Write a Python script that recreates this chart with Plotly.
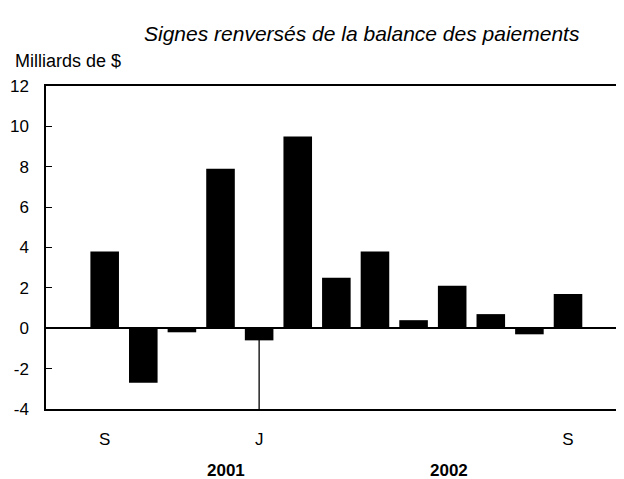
import plotly.graph_objects as go

months = ["Sep 2001", "Oct 2001", "Nov 2001", "Dec 2001", "Jan 2002", "Feb 2002",
          "Mar 2002", "Apr 2002", "May 2002", "Jun 2002", "Jul 2002", "Aug 2002",
          "Sep 2002"]
values = [3.8, -2.7, -0.2, 7.9, -0.6, 9.5, 2.5, 3.8, 0.4, 2.1, 0.7, -0.3, 1.7]
tick_months = ["Sep 2001", "Jan 2002", "Sep 2002"]
tick_text = ["S", "J", "S"]
year_labels = ["2001", "2002"]
year_pos = [3.15, 8.93]
y_ticks = [-4, -2, 0, 2, 4, 6, 8, 10, 12]
y_tick_text = ["-4", "-2", "0", "2", "4", "6", "8", "10", "12"]

FONT = "Liberation Sans, Arial, sans-serif"

fig = go.Figure()
fig.add_trace(go.Bar(x=months, y=values, marker=dict(color="black", line=dict(width=0)),
                     showlegend=False))

# separator line at January
fig.add_shape(type="line", xref="x", yref="y", x0="Jan 2002", x1="Jan 2002",
              y0=0, y1=-4, line=dict(color="black", width=1.3), layer="below")

for lab, pos in zip(year_labels, year_pos):
    fig.add_annotation(x=pos, xref="x", y=-0.189, yref="paper", text="<b>" + lab + "</b>",
                       showarrow=False, font=dict(size=17, color="black", family=FONT),
                       xanchor="center", yanchor="middle")

fig.add_annotation(x=0.547, xref="paper", y=1.164, yref="paper",
                   text="<i>Signes renversés de la balance des paiements</i>",
                   showarrow=False, font=dict(size=21, color="black", family=FONT),
                   xanchor="center", yanchor="middle")
fig.add_annotation(x=-0.057, xref="paper", y=1.077, yref="paper",
                   text="Milliards de $", showarrow=False,
                   font=dict(size=18, color="black", family=FONT),
                   xanchor="left", yanchor="middle")

fig.update_layout(
    width=616, height=471,
    margin=dict(l=38, r=0, t=78, b=70),
    paper_bgcolor="white", plot_bgcolor="white",
    bargap=0.26,
    font=dict(family=FONT, color="black", size=17),
    xaxis=dict(type="category", categoryorder="array", categoryarray=months,
               range=[-1.52, 13.45], tickvals=tick_months, ticktext=tick_text,
               ticks="", showline=True, linecolor="black", linewidth=1.5, mirror=True,
               showgrid=False, zeroline=False, ticklabelstandoff=14, automargin=False,
               tickfont=dict(size=17, family=FONT)),
    yaxis=dict(range=[-4, 12], tickvals=y_ticks, ticktext=y_tick_text,
               ticks="inside", ticklen=6,
               tickcolor="black", tickwidth=1, showline=True, linecolor="black",
               linewidth=1.5, mirror=False, showgrid=False, zeroline=True,
               zerolinecolor="black", zerolinewidth=1.5, automargin=False,
               tickfont=dict(size=17, family=FONT), ticklabelstandoff=12),
)

fig.write_html("out.html")
